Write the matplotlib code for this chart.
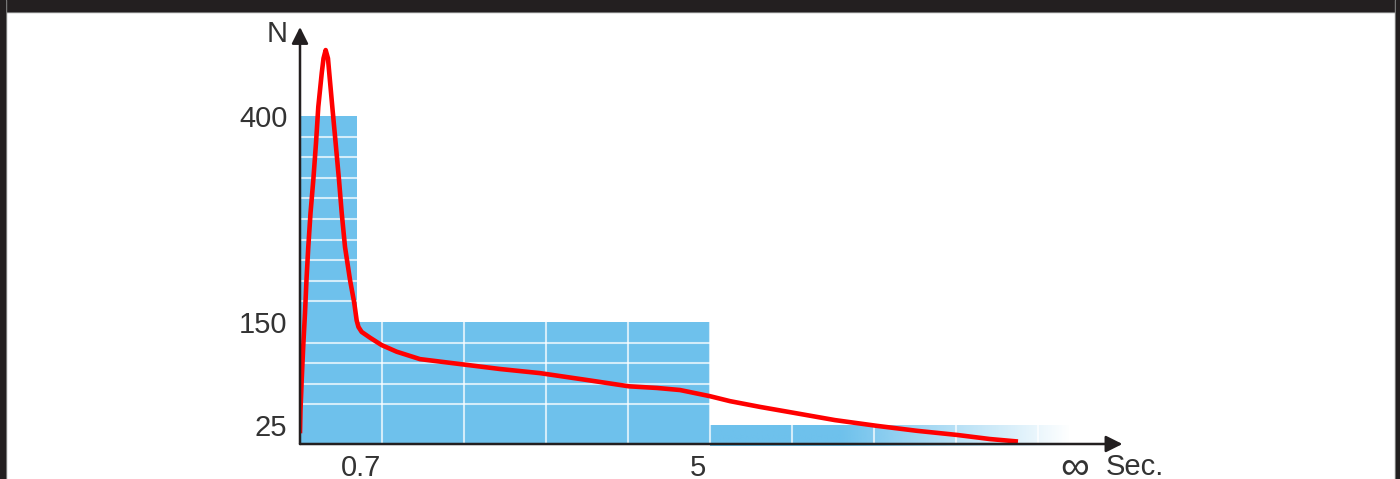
import matplotlib.pyplot as plt
import numpy as np
from matplotlib.patches import Rectangle
from matplotlib.ticker import MultipleLocator, FixedLocator

plt.rcParams['font.family'] = ['Liberation Sans', 'DejaVu Sans']

# bars: time bins (sec) and counts
bin_edges = [0, 0.7, 5, 9.4]
counts = [400, 150, 25]

y_ticks = [25, 150, 400]
x_tick_labels = ['0.7', '5', '\u221e']

# red curve (sec, N)
curve_t = [0, 0.006, 0.021, 0.040, 0.061, 0.079, 0.101, 0.128, 0.162, 0.195,
           0.223, 0.265, 0.287, 0.313, 0.341, 0.357, 0.394, 0.433, 0.476, 0.509,
           0.549, 0.610, 0.662, 0.691, 0.713, 0.752, 0.854, 0.996, 1.179, 1.463,
           1.707, 2.033, 2.439, 2.927, 3.476, 4.012, 4.354, 4.634, 5.0, 5.244,
           5.61, 6.012, 6.524, 7.037, 7.524, 8.012, 8.415, 8.756]
curve_n = [15, 43, 80, 122, 161, 201, 241, 282, 322, 367,
           411, 452, 470, 480, 470, 452, 411, 369, 322, 282,
           241, 201, 173, 152, 144, 138, 131, 122, 114, 105,
           102, 98, 93, 88, 80, 72, 70, 67.5, 60, 54,
           47, 40, 31, 24, 18, 13, 8, 5]

blue = '#6ec1ec'
dark = '#231f20'
txt = '#333333'

fig = plt.figure(figsize=(14, 4.79), dpi=100)
ax = fig.add_axes([300 / 1400, 1 - 444 / 479, 820 / 1400, 417 / 479])

lefts = bin_edges[:-1]
widths = np.diff(bin_edges)
ax.bar(lefts[:2], counts[:2], width=widths[:2], align='edge', color=blue, zorder=1)

# last bar fades out to white
last = ax.bar(lefts[2], counts[2], width=widths[2], align='edge',
              color='none', zorder=1)[0]
gx = np.linspace(bin_edges[2], bin_edges[3], 300)
alpha = np.clip((bin_edges[3] - gx) / (bin_edges[3] - 6.6), 0, 1)
rgba = np.zeros((1, gx.size, 4))
rgba[..., :3] = plt.matplotlib.colors.to_rgb(blue)
rgba[..., 3] = alpha
im = ax.imshow(rgba, extent=(bin_edges[2], bin_edges[3], 0, counts[2]),
               aspect='auto', zorder=1, interpolation='bilinear')
im.set_clip_path(last)
ax.set_xlim(0, 10)
ax.set_ylim(2, 508)

# white grid lines inside the bars (invisible on the white background)
ax.xaxis.set_minor_locator(FixedLocator(np.arange(1, 10)))
ax.yaxis.set_minor_locator(MultipleLocator(25))
ax.grid(which='minor', color='white', alpha=0.7, lw=1.5, zorder=2)
ax.set_axisbelow(False)

ax.plot(curve_t, curve_n, color='#ff0000', lw=3.3, solid_joinstyle='round',
        solid_capstyle='butt', zorder=4)

ax.set_yticks(y_ticks)
ax.set_yticklabels([str(v) for v in y_ticks])
ax.set_xticks([0.74, 4.857])
ax.set_xticklabels(x_tick_labels[:2])
ax.tick_params(which='both', length=0, labelsize=21, labelcolor=txt)
ax.tick_params(axis='y', pad=9)
ax.tick_params(axis='x', pad=7)
for s in ax.spines.values():
    s.set_visible(False)

# axis arrows
arrow = dict(arrowstyle='-|>', color=dark, lw=1.8, mutation_scale=25,
             shrinkA=0, shrinkB=0)
ax.annotate('', xy=(0, 1), xytext=(0, 0), xycoords='axes fraction',
            arrowprops=arrow, zorder=5, annotation_clip=False)
ax.annotate('', xy=(1.003, 0), xytext=(0, 0), xycoords='axes fraction',
            arrowprops=arrow, zorder=5, annotation_clip=False)

ax.text(-0.28, 500, 'N', fontsize=21, color=txt, ha='center', va='center')
ax.text(9.45, -27, x_tick_labels[2], fontsize=29, color=txt, ha='center',
        va='center', clip_on=False)
ax.text(9.82, -26, 'Sec.', fontsize=21, color=txt, ha='left', va='center',
        clip_on=False)

# picture frame
fr = dict(transform=fig.transFigure, zorder=10)
fig.add_artist(Rectangle((0, 1 - 12 / 479), 1, 1 / 479, color='#8a8a8a', **fr))
fig.add_artist(Rectangle((0, 1 - 11 / 479), 1, 11 / 479, color=dark, **fr))
fig.add_artist(Rectangle((5 / 1400, 0), 1 / 1400, 1, color='#8a8a8a', **fr))
fig.add_artist(Rectangle((0, 0), 5 / 1400, 1, color=dark, **fr))
fig.add_artist(Rectangle((1 - 5 / 1400, 0), 1 / 1400, 1, color='#8a8a8a', **fr))
fig.add_artist(Rectangle((1 - 4 / 1400, 0), 4 / 1400, 1, color=dark, **fr))

fig.savefig('out.png', dpi=100)
